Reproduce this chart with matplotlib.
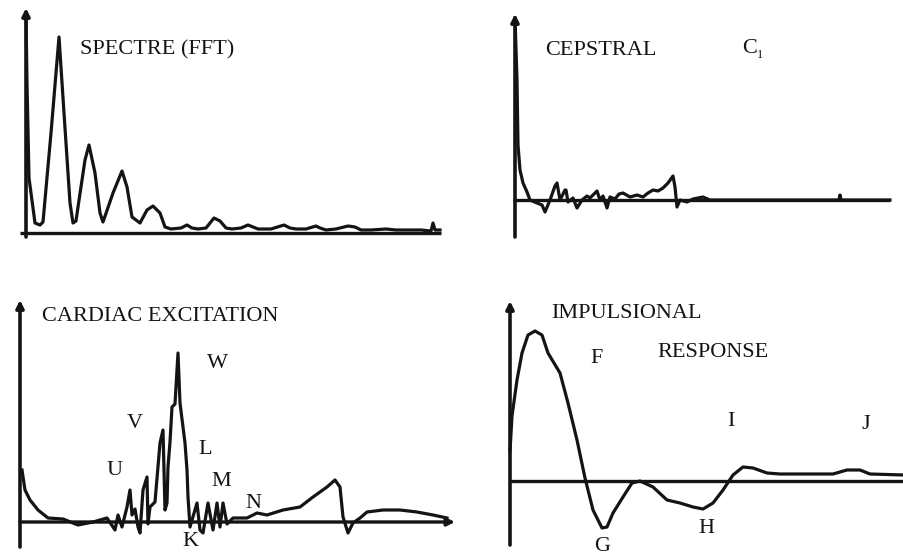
import matplotlib
matplotlib.use("Agg")
import matplotlib.pyplot as plt

# ---------------- data (x = offset from y-axis, y = height above baseline) -------------
fft_x = [0, 1, 3, 9, 14, 17, 25, 33, 38, 44, 47, 50, 52, 59, 63, 69, 74, 77, 87, 96, 101,
         106, 114, 121, 127, 134, 139, 145, 155, 161, 166, 172, 180, 188, 194, 200, 206,
         215, 222, 227, 232, 245, 258, 264, 270, 280, 290, 294, 300, 310, 322, 329, 335,
         345, 360, 370, 380, 395, 405, 407, 409, 414]
fft_y = [218, 150, 55, 10, 8, 11, 100, 196, 120, 30, 10, 12, 26, 73, 88, 60, 20, 11, 40,
         62, 46, 16, 10, 23, 27, 20, 6, 4, 5, 8, 5, 4, 5, 15, 12, 5, 4, 5, 8, 6, 4, 4, 8,
         5, 4, 4, 7, 5, 3, 4, 7, 6, 3, 3, 4, 3, 3, 3, 2, 10, 3, 3]

cep_x = [0, 2, 3, 5, 8, 12, 15, 22, 27, 30, 35, 40, 42, 45, 50, 51, 53, 58, 62, 67, 72, 75,
         82, 85, 88, 92, 95, 100, 104, 108, 115, 122, 128, 133, 138, 143, 148, 153, 158,
         160, 162, 165, 172, 178, 188, 195, 232, 300, 324, 325, 326, 375]
cep_y = [182, 120, 55, 30, 17, 8, 0, -3, -5, -12, 0, 14, 17, 0, 10, 10, -2, 2, -8, 0, 4, 2,
         9, 0, 4, -8, 3, 1, 6, 7, 3, 5, 3, 7, 10, 9, 12, 17, 24, 13, -7, 0, -2, 1, 3, 0, 0,
         0, 0, 5, 0, 0]

card_x = [2, 5, 10, 18, 28, 43, 58, 73, 87, 95, 98, 102, 107, 110, 112, 115, 118, 120, 123,
          127, 128, 130, 135, 140, 143, 145, 147, 148, 150, 152, 155, 158, 160, 165, 167,
          168, 170, 177, 180, 183, 188, 193, 197, 200, 203, 207, 213, 227, 237, 247, 263,
          280, 293, 307, 315, 320, 323, 328, 333, 340, 347, 363, 380, 397, 413, 427]
card_y = [52, 32, 22, 12, 4, 3, -3, 0, 4, -8, 7, -5, 15, 32, 7, 13, -5, -11, 32, 45, -2, 15,
          20, 79, 92, 12, 19, 55, 80, 115, 118, 169, 119, 79, 52, 25, -5, 19, -8, -11, 19,
          -8, 19, -5, 19, -2, 4, 4, 9, 7, 12, 15, 25, 35, 42, 35, 5, -11, -1, 4, 10, 12, 12,
          10, 7, 4]

imp_x = [0, 2, 7, 12, 18, 25, 32, 38, 50, 58, 67, 75, 83, 92, 97, 103, 113, 122, 130, 143,
         157, 170, 183, 193, 203, 213, 223, 233, 243, 257, 270, 303, 323, 337, 350, 360, 394]
imp_y = [30, 65, 101, 128, 146, 150, 146, 128, 108, 78, 41, 3, -29, -47, -46, -32, -16, -2,
         0, -6, -19, -22, -26, -28, -22, -9, 6, 14, 13, 8, 7, 7, 7, 11, 11, 7, 6]

titles = ["SPECTRE (FFT)", "CEPSTRAL", "CARDIAC EXCITATION", "IMPULSIONAL", "RESPONSE"]
card_labels = ["W", "V", "L", "U", "M", "N", "K"]
imp_labels = ["F", "I", "J", "H", "G"]

# ---------------- figure -------------------------------------------------------------
W, H = 904, 555
fig = plt.figure(figsize=(W / 100, H / 100), dpi=100)
fig.patch.set_facecolor("white")
INK = "#141414"
FONT = "Liberation Serif"


def add_panel(px_l, px_r, px_t, px_b, ox, oy):
    ax = fig.add_axes([px_l / W, 1 - px_b / H, (px_r - px_l) / W, (px_b - px_t) / H])
    ax.set_xlim(px_l - ox, px_r - ox)
    ax.set_ylim(oy - px_b, oy - px_t)
    ax.axis("off")
    return ax


def axes_lines(ax, ybot, ytop, xleft, xright, xarrow=False):
    ax.annotate("", xy=(0, ytop), xytext=(0, ybot),
                arrowprops=dict(arrowstyle="-|>", lw=2.6, color=INK, mutation_scale=11,
                                shrinkA=0, shrinkB=0))
    if xarrow:
        ax.annotate("", xy=(xright, 0), xytext=(xleft, 0),
                    arrowprops=dict(arrowstyle="-|>", lw=2.4, color=INK, mutation_scale=11,
                                    shrinkA=0, shrinkB=0))
    else:
        ax.plot([xleft, xright], [0, 0], color=INK, lw=2.4, solid_capstyle="butt")


def ftext(px, py, s, ha="left", size=16):
    fig.text(px / W, 1 - py / H, s, ha=ha, va="baseline", fontsize=size,
             family=FONT, color=INK)


# Panel 1: spectrum
ax1 = add_panel(5, 450, 3, 245, 26, 233)
axes_lines(ax1, -4, 225, -6, 415)
ax1.plot(fft_x, fft_y, color=INK, lw=2.3, solid_joinstyle="round")

# Panel 2: cepstrum
ax2 = add_panel(495, 900, 3, 245, 515, 200)
axes_lines(ax2, -37, 186, -2, 375)
ax2.plot(cep_x, cep_y, color=INK, lw=2.3, solid_joinstyle="round")

# Panel 3: cardiac excitation
ax3 = add_panel(5, 460, 290, 552, 20, 522)
axes_lines(ax3, -25, 222, 0, 435, xarrow=True)
ax3.plot(card_x, card_y, color=INK, lw=2.3, solid_joinstyle="round")

# Panel 4: impulse response
ax4 = add_panel(495, 904, 290, 552, 510, 481)
axes_lines(ax4, -64, 180, 0, 394)
ax4.plot(imp_x, imp_y, color=INK, lw=2.3, solid_joinstyle="round")

# ---------------- texts --------------------------------------------------------------
ftext(80, 54, titles[0])
ftext(545, 55, titles[1])
ftext(742, 53, "C")
ftext(757, 58, "1", size=9)
ftext(42, 321, titles[2])
ftext(551, 318, titles[3])
ftext(657, 357, titles[4])

card_pos = [(217, 368), (135, 428), (205, 454), (115, 475), (221, 486), (253, 508), (190, 546)]
for s, (px, py) in zip(card_labels, card_pos):
    ftext(px, py, s, ha="center")

imp_pos = [(597, 363), (731, 426), (866, 429), (706, 533), (602, 551)]
for s, (px, py) in zip(imp_labels, imp_pos):
    ftext(px, py, s, ha="center")

fig.savefig("out.png", dpi=100, facecolor="white")
